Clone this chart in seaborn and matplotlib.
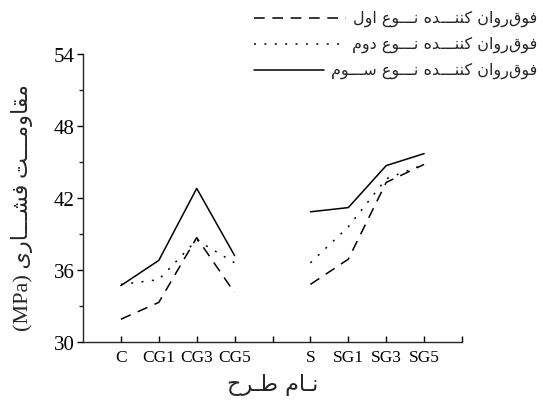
import matplotlib
matplotlib.use("Agg")
import matplotlib.pyplot as plt
from matplotlib.lines import Line2D
import pandas as pd
import seaborn as sns

# ---- data -------------------------------------------------------------
mixes_c = ["C", "CG1", "CG3", "CG5"]
mixes_s = ["S", "SG1", "SG3", "SG5"]
tick_labels = mixes_c + [""] + mixes_s + [""]

type1 = [31.9, 33.3, 38.7, 34.1, 34.8, 36.9, 43.3, 44.8]   # dashed
type2 = [34.8, 35.2, 38.5, 36.6, 36.6, 39.6, 43.6, 44.8]   # dotted
type3 = [34.7, 36.8, 42.8, 37.2, 40.85, 41.2, 44.7, 45.7]  # solid

series_names = [
    "فوق‌روان کننـــده نـــوع اول",
    "فوق‌روان کننـــده نـــوع دوم",
    "فوق‌روان کننـــده نـــوع ســـوم",
]
y_label = "مقاومـــت فشـــاری"
y_unit = "(MPa)"
x_label = "نـام طـرح"

# ---- minimal Persian shaping (contextual forms + RTL order) ----------
_FORMS = {
    "ا": ("\uFE8D", "\uFE8E", None, None),
    "ت": ("\uFE95", "\uFE96", "\uFE97", "\uFE98"),
    "ح": ("\uFEA1", "\uFEA2", "\uFEA3", "\uFEA4"),
    "د": ("\uFEA9", "\uFEAA", None, None),
    "ر": ("\uFEAD", "\uFEAE", None, None),
    "س": ("\uFEB1", "\uFEB2", "\uFEB3", "\uFEB4"),
    "ش": ("\uFEB5", "\uFEB6", "\uFEB7", "\uFEB8"),
    "ط": ("\uFEC1", "\uFEC2", "\uFEC3", "\uFEC4"),
    "ع": ("\uFEC9", "\uFECA", "\uFECB", "\uFECC"),
    "ف": ("\uFED1", "\uFED2", "\uFED3", "\uFED4"),
    "ق": ("\uFED5", "\uFED6", "\uFED7", "\uFED8"),
    "ک": ("\uFB8E", "\uFB8F", "\uFB90", "\uFB91"),
    "ل": ("\uFEDD", "\uFEDE", "\uFEDF", "\uFEE0"),
    "م": ("\uFEE1", "\uFEE2", "\uFEE3", "\uFEE4"),
    "ن": ("\uFEE5", "\uFEE6", "\uFEE7", "\uFEE8"),
    "ه": ("\uFEE9", "\uFEEA", "\uFEEB", "\uFEEC"),
    "و": ("\uFEED", "\uFEEE", None, None),
    "ی": ("\uFBFC", "\uFBFD", "\uFBFE", "\uFBFF"),
}
TATWEEL = "ـ"


def _dual(ch):
    return ch == TATWEEL or (ch in _FORMS and _FORMS[ch][2] is not None)


def _joins(ch):
    return ch == TATWEEL or ch in _FORMS


def rtl(text):
    chars = list(text)
    out = []
    for i, ch in enumerate(chars):
        if ch == "\u200c":
            continue
        if ch not in _FORMS:
            out.append(ch)
            continue
        prev = chars[i - 1] if i > 0 else None
        nxt = chars[i + 1] if i + 1 < len(chars) else None
        jp = prev is not None and _dual(prev)
        jn = _dual(ch) and nxt is not None and _joins(nxt)
        iso, fin, ini, med = _FORMS[ch]
        out.append(med if (jp and jn) else ini if jn else fin if jp else iso)
    return "".join(reversed(out))


# ---- long-form table --------------------------------------------------
positions = [1, 2, 3, 4, 6, 7, 8, 9]
groups = ["C"] * 4 + ["S"] * 4
rows = []
for name, vals in zip(["t1", "t2", "t3"], [type1, type2, type3]):
    for p, g, v in zip(positions, groups, vals):
        rows.append({"pos": p, "value": v, "series": name, "group": g})
df = pd.DataFrame(rows)

# ---- style ------------------------------------------------------------
sns.set_style("ticks")
plt.rcParams["font.family"] = ["Liberation Serif", "DejaVu Sans"]
plt.rcParams["axes.linewidth"] = 1.0

W, H = 543, 406
fig = plt.figure(figsize=(W / 100, H / 100), dpi=100)
ax = fig.add_axes([83 / W, 1 - 343 / H, (462 - 83) / W, (343 - 55) / H])

lw = 1.1
dash_map = {"t1": (7, 5), "t2": (1.3, 5.5), "t3": ""}
sns.lineplot(
    data=df, x="pos", y="value", style="series", units="group",
    estimator=None, sort=False, color="black", dashes=dash_map,
    linewidth=lw, legend=False, ax=ax,
)

ax.set_xlim(0, 10)
ax.set_ylim(30, 54)
ax.set_xticks(range(1, 11))
ax.set_xticklabels(tick_labels)
ax.set_yticks([30, 36, 42, 48, 54])
ax.set_yticks([33, 39, 45, 51], minor=True)
ax.tick_params(axis="y", which="major", direction="out", length=4,
               width=1.0, labelsize=15, pad=2, colors="black")
ax.tick_params(axis="y", which="minor", direction="out", length=3,
               width=1.0)
ax.tick_params(axis="x", which="major", direction="in", length=4,
               width=1.0, labelsize=12.5, pad=5, colors="black")
sns.despine(ax=ax)

ax.set_xlabel(rtl(x_label), fontsize=16, family=["DejaVu Sans"],
              va="center")
ax.xaxis.set_label_coords(0.5, -0.146)
ax.set_ylabel(y_unit + " " + rtl(y_label), fontsize=16,
              family=["Liberation Serif", "DejaVu Sans"], va="center")
ax.yaxis.set_label_coords(-0.16, 0.47)

# ---- legend: sample line on the left, text right-aligned ----------------
leg_rows = [19, 45, 71]
renderer = fig.canvas.get_renderer()
for name, key, y in zip(series_names, ["t1", "t2", "t3"], leg_rows):
    yf = 1 - y / H
    txt = fig.text(537 / W, yf, rtl(name), ha="right", va="center",
                   fontsize=11.5, family=["DejaVu Sans"])
    x_text = txt.get_window_extent(renderer).x0
    ln = Line2D([254 / W, (x_text - 7) / W], [yf, yf],
                transform=fig.transFigure, color="black", linewidth=lw)
    if dash_map[key]:
        ln.set_dashes(dash_map[key])
    fig.add_artist(ln)

fig.savefig("out.png", dpi=100)
